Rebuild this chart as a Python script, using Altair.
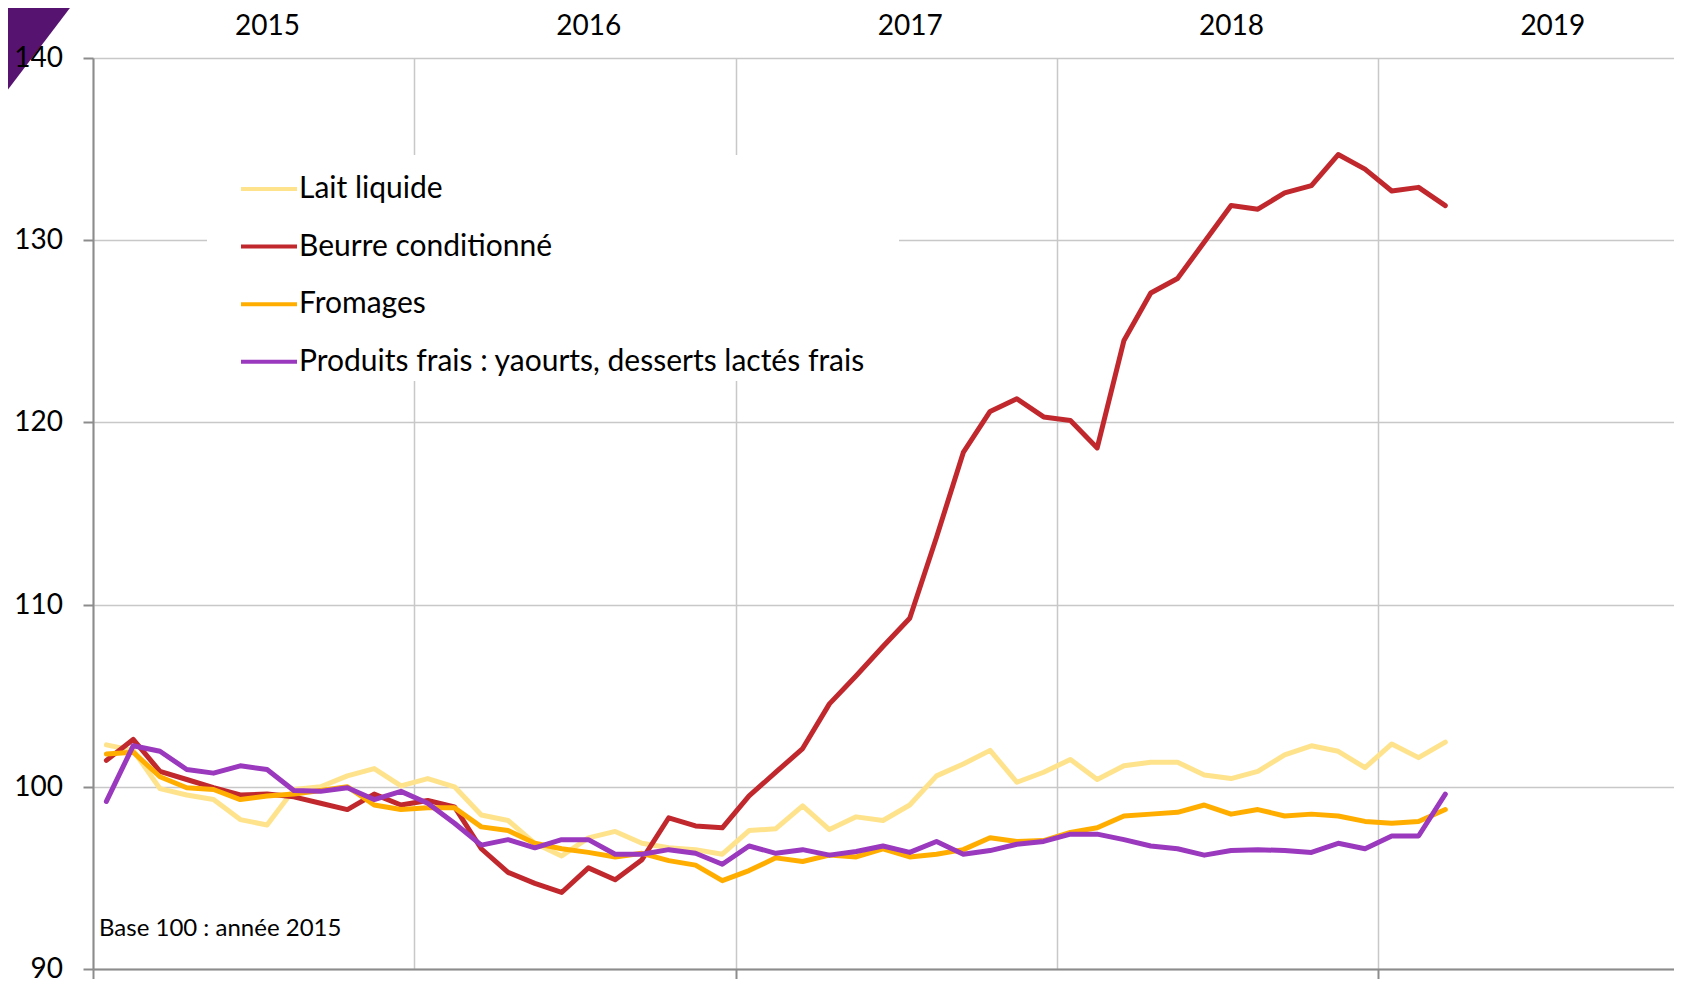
import altair as alt
import pandas as pd

# ---- data ----
months = pd.date_range("2015-01-01", periods=51, freq="MS").strftime("%Y-%m").tolist()

lait = [102.3, 102.0, 99.9, 99.55, 99.3, 98.2, 97.9, 99.85, 100.0, 100.6, 101.0, 100.05,
        100.45, 100.0, 98.45, 98.15, 96.9, 96.2, 97.2, 97.55, 96.9, 96.65, 96.55, 96.3,
        97.6, 97.7, 98.95, 97.65, 98.35, 98.15, 99.0, 100.6, 101.25, 102.0, 100.25, 100.8,
        101.5, 100.4, 101.15, 101.35, 101.35, 100.65, 100.45, 100.85, 101.75, 102.25, 101.95, 101.05,
        102.35, 101.6, 102.45]
beurre = [101.45, 102.6, 100.85, 100.4, 99.95, 99.55, 99.6, 99.45, 99.1, 98.75, 99.6, 99.0,
          99.25, 98.9, 96.6, 95.3, 94.7, 94.2, 95.55, 94.9, 96.0, 98.3, 97.85, 97.75,
          99.5, 100.8, 102.1, 104.55, 106.1, 107.7, 109.25, 113.7, 118.35, 120.6, 121.3, 120.3,
          120.1, 118.6, 124.5, 127.1, 127.9, 129.9, 131.9, 131.7, 132.6, 133.0, 134.7, 133.9,
          132.7, 132.9, 131.9]
fromages = [101.8, 101.9, 100.55, 99.95, 99.85, 99.3, 99.5, 99.6, 99.8, 100.0, 99.0, 98.75,
            98.85, 98.85, 97.8, 97.6, 96.9, 96.6, 96.4, 96.15, 96.35, 95.95, 95.7, 94.85,
            95.4, 96.1, 95.9, 96.25, 96.15, 96.6, 96.15, 96.3, 96.55, 97.2, 97.0, 97.05,
            97.5, 97.75, 98.4, 98.5, 98.6, 99.0, 98.5, 98.75, 98.4, 98.5, 98.4, 98.1,
            98.0, 98.1, 98.75]
frais = [99.2, 102.25, 101.95, 100.95, 100.75, 101.15, 100.95, 99.8, 99.75, 99.95, 99.3, 99.75,
         99.1, 98.0, 96.8, 97.1, 96.65, 97.1, 97.1, 96.3, 96.3, 96.55, 96.35, 95.75,
         96.75, 96.35, 96.55, 96.25, 96.45, 96.75, 96.4, 97.0, 96.3, 96.5, 96.85, 97.0,
         97.4, 97.4, 97.1, 96.75, 96.6, 96.25, 96.5, 96.55, 96.5, 96.4, 96.9, 96.6,
         97.3, 97.3, 99.6]

series_names = ["Lait liquide", "Beurre conditionné", "Fromages",
                "Produits frais : yaourts, desserts lactés frais"]
series_colors = ["#FFE38C", "#C0282D", "#FFAE00", "#9A38BE"]
y_ticks = [90, 100, 110, 120, 130, 140]
year_starts = [0, 12, 24, 36, 48]
bottom_ticks = [0, 24, 48]
note_text = ["Base 100 : année 2015"]

rows = []
for name, vals in zip(series_names, [lait, beurre, fromages, frais]):
    for i, (m, v) in enumerate(zip(months, vals)):
        rows.append({"serie": name, "mois": m, "t": i + 0.5, "indice": v})
df = pd.DataFrame(rows)

FONT = "Lato"
GRID = "#c8c8c8"
AXIS = "#8c8c8c"

x_scale = alt.Scale(domain=[0, 59.04], nice=False, zero=False)
y_scale = alt.Scale(domain=[90, 140], nice=False, zero=False)

top_axis = alt.Axis(orient="top", values=year_starts, grid=True, gridColor=GRID, gridWidth=1.5,
                    ticks=False, tickSize=0, domain=False, title=None,
                    labelExpr="'' + (2015 + datum.value / 12)", labelOffset=174,
                    labelFlush=False, labelOverlap=False, labelBaseline="middle",
                    labelPadding=32, labelFont=FONT, labelFontSize=28, labelColor="black")
bottom_axis = alt.Axis(orient="bottom", values=bottom_ticks, grid=False, labels=False,
                       ticks=True, tickSize=10, tickColor=AXIS, tickWidth=2,
                       domain=True, domainColor=AXIS, domainWidth=2, title=None)
y_axis = alt.Axis(orient="left", values=y_ticks, grid=True, gridColor=GRID, gridWidth=1.5,
                  labels=False, ticks=True, tickSize=10, tickColor=AXIS, tickWidth=2,
                  domain=True, domainColor=AXIS, domainWidth=2, title=None)

legend = alt.Legend(title=" ", titleOrient="right", titleFontSize=1, titlePadding=30,
                    orient="none", legendX=114, legendY=97, fillColor="white",
                    padding=4, symbolType="stroke", symbolStrokeWidth=4, symbolSize=3136,
                    symbolOffset=28, labelFont=FONT, labelFontSize=30, labelColor="black",
                    labelLimit=1000, labelOffset=0, rowPadding=12.6, direction="vertical")

lines = alt.Chart(df).mark_line(strokeWidth=5, strokeJoin="round", strokeCap="round").encode(
    x=alt.X("t:Q", scale=x_scale, axis=top_axis),
    y=alt.Y("indice:Q", scale=y_scale, axis=y_axis),
    color=alt.Color("serie:N", scale=alt.Scale(domain=series_names, range=series_colors),
                    legend=legend),
    detail="serie:N",
)

bottom = alt.Chart(df).mark_line(opacity=0).encode(
    x=alt.X("t:Q", axis=bottom_axis),
    y=alt.Y("indice:Q", axis=None),
    detail="serie:N",
)

triangle = alt.Chart(pd.DataFrame({"k": [0]})).mark_point(
    shape="M 0 0 L 0.76 0 L 0 1 Z", filled=True, size=40000, color="#561470",
    opacity=1, strokeWidth=0
).encode(x=alt.value(-93), y=alt.value(-58))

ylabels = alt.Chart(pd.DataFrame({"v": y_ticks})).mark_text(
    align="right", baseline="middle", fontSize=28, font=FONT, color="black", dy=1
).encode(y=alt.Y("v:Q", axis=None), x=alt.value(-30), text=alt.Text("v:Q"))

note = alt.Chart(pd.DataFrame({"note": note_text})).mark_text(
    align="left", baseline="alphabetic", fontSize=24, font=FONT, color="black"
).encode(x=alt.value(6), y=alt.value(878), text="note:N")

chart = alt.layer(triangle, lines, bottom, ylabels, note).resolve_axis(
    x="independent", y="independent"
).properties(
    width=1581, height=911,
    padding={"left": 85, "top": 50, "right": 0, "bottom": 10},
    autosize=alt.AutoSizeParams(type="none"),
).configure_view(stroke=None)

chart.save("out.html", embed_options={"renderer": "svg", "actions": False})
